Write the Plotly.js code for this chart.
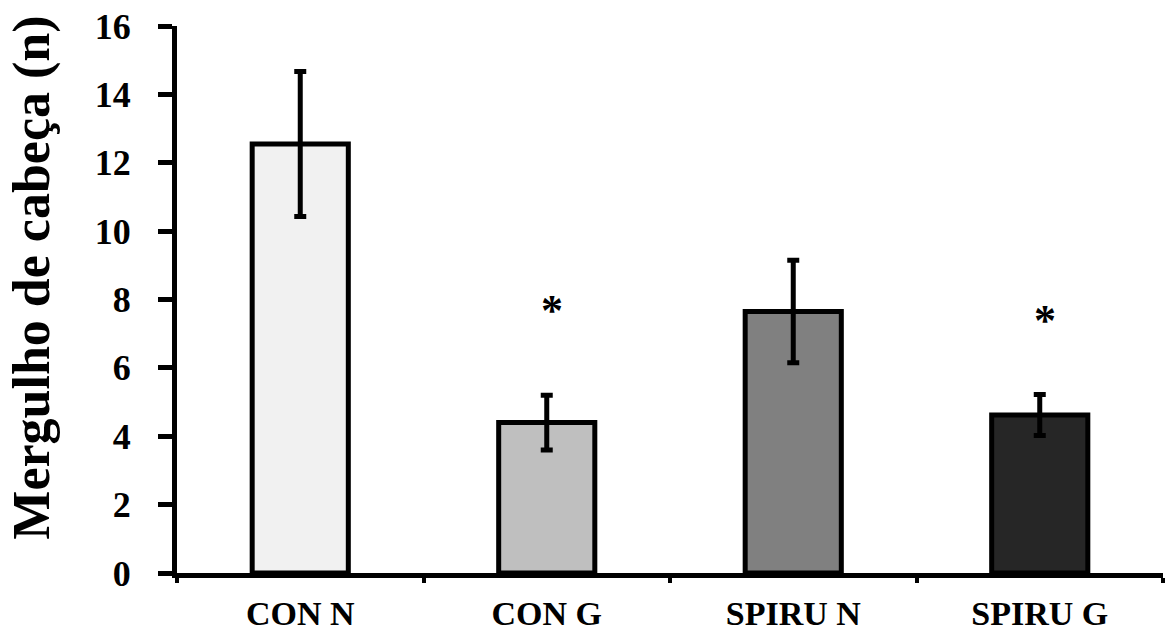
<!DOCTYPE html>
<html>
<head>
<meta charset="utf-8">
<script src="https://cdn.plot.ly/plotly-3.0.1.min.js"></script>
<style>html,body{margin:0;padding:0;background:#fff;}#chart{width:1167px;height:636px;}</style>
</head>
<body>
<div id="chart"></div>
<script>
const categories = ['CON N', 'CON G', 'SPIRU N', 'SPIRU G'];
const means = [12.55, 4.4, 7.65, 4.62];
const errors = [2.12, 0.8, 1.5, 0.6];
const barColors = ['#f1f1f1', '#bfbfbf', '#808080', '#262626'];
const sigMarks = ['', '*', '', '*'];
const sigY = [null, 7.8, null, 7.5];
const yTicks = [0, 2, 4, 6, 8, 10, 12, 14, 16];
const yTitle = 'Mergulho de cabeça (n)';

const fontFam = '"Liberation Serif", "Times New Roman", serif';

const trace = {
  type: 'bar',
  x: categories,
  y: means,
  marker: { color: barColors, line: { color: '#000', width: 5 } },
  error_y: { type: 'data', array: errors, visible: true, color: '#000', thickness: 5, width: 6 },
  hoverinfo: 'none'
};

const annotations = [];
categories.forEach((c, i) => {
  if (sigMarks[i]) {
    annotations.push({
      x: c, y: sigY[i], xref: 'x', yref: 'y', text: sigMarks[i], showarrow: false,
      xanchor: 'center', yanchor: 'middle', yshift: -4, xshift: 5,
      font: { family: fontFam, size: 44, color: '#000', weight: 700 }
    });
  }
});
annotations.push({
  x: -0.147, y: 0.54, xref: 'paper', yref: 'paper', text: yTitle, showarrow: false,
  textangle: -90, xanchor: 'center', yanchor: 'middle',
  font: { family: fontFam, size: 52, color: '#000', weight: 700 }
});

const layout = {
  width: 1167, height: 636,
  margin: { l: 177, r: 4, t: 26, b: 63 },
  paper_bgcolor: '#fff', plot_bgcolor: '#fff',
  showlegend: false,
  bargap: 0.61,
  font: { family: fontFam, color: '#000' },
  xaxis: {
    type: 'category',
    showgrid: false, zeroline: false,
    showline: true, linecolor: '#000', linewidth: 5,
    ticks: 'outside', tickson: 'boundaries', ticklen: 5, tickwidth: 4, tickcolor: '#000',
    tickfont: { family: fontFam, size: 34, color: '#000', weight: 700 },
    ticklabelstandoff: 6
  },
  yaxis: {
    range: [0, 16],
    tickvals: yTicks, ticktext: yTicks.map(String),
    showgrid: false, zeroline: false,
    showline: true, linecolor: '#000', linewidth: 5,
    ticks: 'outside', ticklen: 14, tickwidth: 5, tickcolor: '#000',
    tickfont: { family: fontFam, size: 36, color: '#000', weight: 700 },
    ticklabelstandoff: 20
  },
  annotations: annotations
};

Plotly.newPlot('chart', [trace], layout, { staticPlot: true, displayModeBar: false });
</script>
</body>
</html>
